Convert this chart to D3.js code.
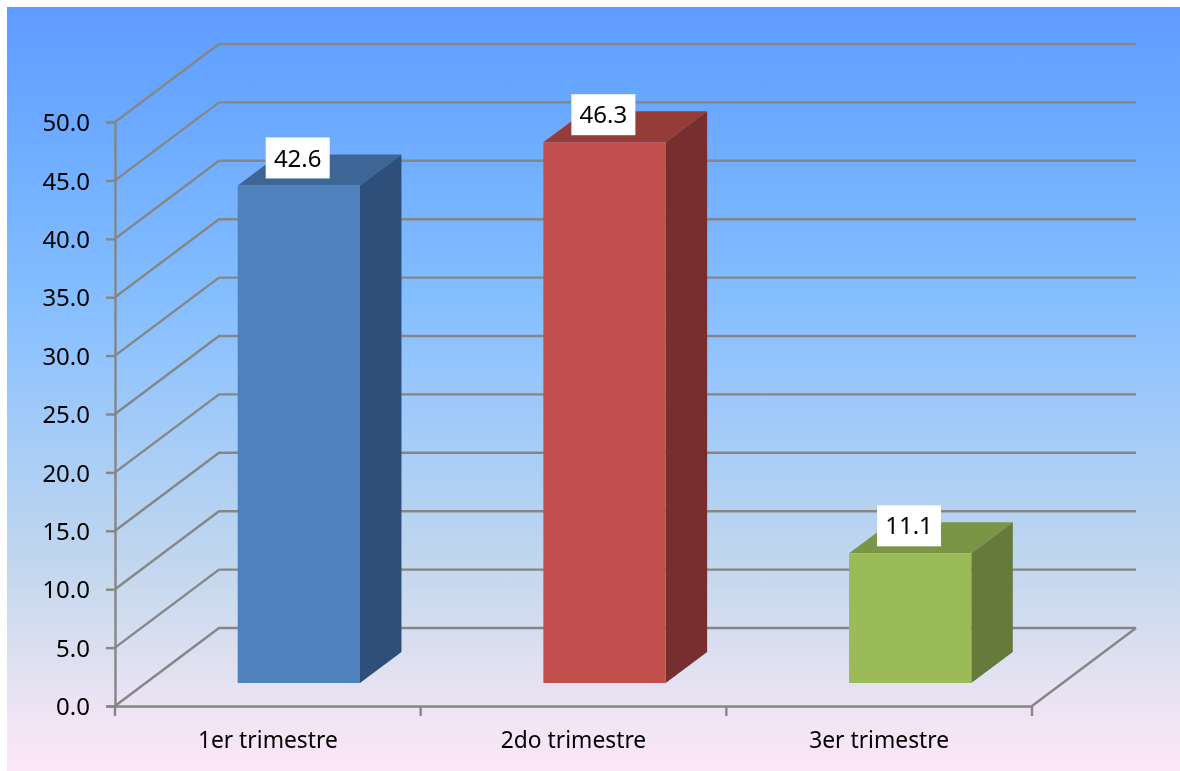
<!DOCTYPE html>
<html>
<head>
<meta charset="utf-8">
<script src="https://cdn.jsdelivr.net/npm/d3@7"></script>
<style>
html,body{margin:0;padding:0;background:#fff;overflow:hidden}
svg{display:block}
text{font-family:"Noto Sans","Open Sans",sans-serif;fill:#000}
</style>
</head>
<body>
<script>
const categories = ["1er trimestre","2do trimestre","3er trimestre"];
const values = [42.6,46.3,11.1];
const frontColors = ["#4F81BD","#C0504D","#9BBB59"];
const topColors = ["#3D6595","#953B39","#799544"];
const sideColors = ["#2F5079","#772F2D","#657A3A"];
const yTicks = [0,5,10,15,20,25,30,35,40,45,50];

const W=1180,H=771;
const svg=d3.select("body").append("svg").attr("width",W).attr("height",H);
const defs=svg.append("defs");
const bg=defs.append("linearGradient").attr("id","bg").attr("x1",0).attr("y1",0).attr("x2",0).attr("y2",1);
[[0,"#5E9DFF"],[0.12,"#68A7FF"],[0.38,"#84BEFF"],[0.55,"#A3CBF8"],[0.72,"#C0D6EE"],[0.85,"#DCE0F0"],[0.94,"#F2E5F6"],[1,"#FBE6F8"]]
 .forEach(s=>bg.append("stop").attr("offset",s[0]).attr("stop-color",s[1]));
defs.append("filter").attr("id","soft").attr("x",0).attr("y",0).attr("width",1).attr("height",1)
 .attr("filterUnits","userSpaceOnUse").attr("x",0).attr("y",0).attr("width",W).attr("height",H)
 .append("feGaussianBlur").attr("stdDeviation",0.4);
svg.append("rect").attr("x",7).attr("y",7).attr("width",W-7).attr("height",H-7).attr("fill","url(#bg)");

const x=d3.scaleBand().domain(categories).range([115,1032]).paddingInner(0.6).paddingOuter(0.3);
const y=d3.scaleLinear().domain([0,50]).range([706,122]);
const depth={dx:104,dy:-78};
const gap={dx:31,dy:-23};
const bar={dx:41.5,dy:-31};
const grid="#868686";
const lw=2.4;

const g=svg.append("g").attr("filter","url(#soft)");
// wall gridlines
const line=d3.line();
g.append("g").selectAll("path").data(yTicks).join("path")
 .attr("d",t=>line([[x.range()[0],y(t)],[x.range()[0]+depth.dx,y(t)+depth.dy],[x.range()[1]+depth.dx,y(t)+depth.dy]]))
 .attr("fill","none").attr("stroke",grid).attr("stroke-width",lw);
// floor right edge
g.append("path")
 .attr("d",line([[x.range()[1],y(0)],[x.range()[1]+depth.dx,y(0)+depth.dy]]))
 .attr("fill","none").attr("stroke",grid).attr("stroke-width",lw);

// axes
const yAxis=g.append("g").attr("transform",`translate(${x.range()[0]},0)`)
 .call(d3.axisLeft(y).tickValues(yTicks).tickFormat(d3.format(".1f")).tickSize(9).tickPadding(16));
yAxis.selectAll("path,line").attr("stroke",grid).attr("stroke-width",lw);
yAxis.selectAll("text").attr("font-size",24).attr("font-family",null).attr("dy","0.36em");

const xAxis=g.append("g").attr("transform",`translate(0,${y(0)})`)
 .call(d3.axisBottom(x).tickSize(0).tickPadding(26).tickSizeOuter(0));
xAxis.select("path").attr("stroke",grid).attr("stroke-width",lw);
xAxis.selectAll("text").attr("font-size",22.8).attr("font-family",null);
const step=x.step();
xAxis.selectAll("line.bound").data(d3.range(categories.length+1)).join("line").attr("class","bound")
 .attr("x1",i=>x.range()[0]+i*step).attr("x2",i=>x.range()[0]+i*step)
 .attr("y1",0).attr("y2",10).attr("stroke",grid).attr("stroke-width",lw);

// bars
const bars=g.append("g").selectAll("g").data(categories).join("g");
const X0=c=>x(c)+gap.dx, X1=c=>X0(c)+x.bandwidth();
const Yb=y(0)+gap.dy;
const Yt=(c,i)=>Yb-(y(0)-y(values[i]));
bars.append("path").attr("fill",(c,i)=>topColors[i])
 .attr("d",(c,i)=>line([[X0(c),Yt(c,i)],[X1(c),Yt(c,i)],[X1(c)+bar.dx,Yt(c,i)+bar.dy],[X0(c)+bar.dx,Yt(c,i)+bar.dy]])+"Z");
bars.append("path").attr("fill",(c,i)=>sideColors[i])
 .attr("d",(c,i)=>line([[X1(c),Yt(c,i)],[X1(c)+bar.dx,Yt(c,i)+bar.dy],[X1(c)+bar.dx,Yb+bar.dy],[X1(c),Yb]])+"Z");
bars.append("rect").attr("fill",(c,i)=>frontColors[i])
 .attr("x",c=>X0(c)).attr("y",(c,i)=>Yt(c,i)).attr("width",x.bandwidth()).attr("height",(c,i)=>Yb-Yt(c,i));

// value labels
const lab=g.append("g").selectAll("g").data(categories).join("g")
 .attr("transform",(c,i)=>`translate(${X0(c)+60},${Yt(c,i)-27.5})`);
lab.append("rect").attr("x",-32).attr("y",-20.5).attr("width",64).attr("height",41).attr("fill","#fff");
lab.append("text").attr("text-anchor","middle").attr("dy","0.36em").attr("font-size",24).text((c,i)=>values[i].toFixed(1));
</script>
</body>
</html>
